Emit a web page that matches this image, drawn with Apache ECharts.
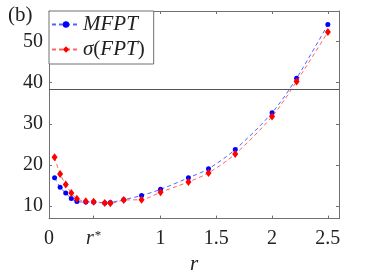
<!DOCTYPE html>
<html><head><meta charset="utf-8">
<script src="https://cdn.jsdelivr.net/npm/echarts@6/dist/echarts.min.js"></script>
<style>html,body{margin:0;padding:0;background:#fff}#c{width:374px;height:280px}</style>
</head><body><div id="c"></div>
<script>
var rVals = [0.05, 0.1, 0.15, 0.2, 0.25, 0.33, 0.4, 0.5, 0.55, 0.67, 0.83, 1.0, 1.25, 1.43, 1.67, 2.0, 2.22, 2.5];
var mfpt  = [16.9, 14.6, 13.2, 11.9, 11.15, 11.0, 11.0, 10.8, 10.9, 11.6, 12.6, 14.1, 16.9, 19.1, 23.8, 32.7, 41.1, 54.1];
var sigma = [21.9, 17.8, 15.3, 13.2, 11.8, 11.2, 11.1, 10.8, 10.7, 11.5, 11.6, 13.4, 15.9, 18.1, 22.7, 31.8, 40.3, 52.3];
var xTicks = [0, 0.4, 1, 1.5, 2, 2.5];
var xTickLabels = ['0', 'r*', '1', '1.5', '2', '2.5'];
var yTicks = [10, 20, 30, 40, 50];
var hLineValue = 38.5;
var seriesNames = ['MFPT', 'σ(FPT)'];

var FONT = 'Liberation Serif';
var AX = '#707070';
function pairs(ys){ return rVals.map(function(x,i){ return [x, ys[i]]; }); }

var chart = echarts.init(document.getElementById('c'), null, {renderer:'canvas'});
var axisCommon = {
  axisLine:{show:true, onZero:false, lineStyle:{color:AX, width:1}},
  splitLine:{show:false}
};
chart.setOption({
  animation:false,
  backgroundColor:'#fff',
  grid:{left:49, right:35, top:11, bottom:61, containLabel:false},
  title:{text:'(b)', left:3, top:0, textStyle:{fontFamily:FONT, fontSize:21, fontWeight:'normal', color:'#222'}},
  legend:{
    left:49, top:11, orient:'vertical', itemWidth:28, itemHeight:8, itemGap:4,
    padding:[3,9,4,2], backgroundColor:'#fff', borderColor:AX, borderWidth:1, borderRadius:0,
    data:seriesNames,
    formatter:function(n){
      if(n==='MFPT') return '{i|MFPT}';
      return '{i|σ}{n|(}{i|FPT}{n|)}';
    },
    textStyle:{
      fontFamily:FONT, fontSize:21, color:'#222', padding:[0,0,0,-2],
      rich:{i:{fontFamily:FONT, fontStyle:'italic', fontSize:21, color:'#222'},
            n:{fontFamily:FONT, fontSize:21, color:'#222'}}
    }
  },
  xAxis:[
    Object.assign({type:'value', min:0, max:2.6, position:'bottom',
      axisTick:{show:true, inside:true, length:3, lineStyle:{color:AX}, customValues:xTicks},
      axisLabel:{show:true, margin:10, customValues:xTicks, fontFamily:FONT, fontSize:20, color:'#222',
        formatter:function(v){ var i = xTicks.indexOf(v); var s = i>=0 ? xTickLabels[i] : String(v);
          return s==='r*' ? '{i|r}{s|*}' : s; },
        rich:{i:{fontFamily:FONT, fontStyle:'italic', fontSize:20, color:'#222'},
              s:{fontFamily:FONT, fontSize:13, color:'#222', verticalAlign:'top', padding:[0,0,8,1]}}},
      name:'r', nameLocation:'middle', nameGap:30,
      nameTextStyle:{fontFamily:FONT, fontStyle:'italic', fontSize:21, color:'#222'}
    }, axisCommon),
    Object.assign({type:'value', min:0, max:2.6, position:'top',
      axisTick:{show:true, inside:true, length:3, lineStyle:{color:AX}, customValues:xTicks},
      axisLabel:{show:false}}, axisCommon)
  ],
  yAxis:[
    Object.assign({type:'value', min:7, max:57.4, position:'left',
      axisTick:{show:true, inside:true, length:3, lineStyle:{color:AX}, customValues:yTicks},
      axisLabel:{show:true, margin:6, customValues:yTicks, fontFamily:FONT, fontSize:20, color:'#222'}
    }, axisCommon),
    Object.assign({type:'value', min:7, max:57.4, position:'right',
      axisTick:{show:true, inside:true, length:3, lineStyle:{color:AX}, customValues:yTicks},
      axisLabel:{show:false}}, axisCommon)
  ],
  series:[
    {name:seriesNames[0], type:'line', xAxisIndex:0, yAxisIndex:0, data:pairs(mfpt),
     smooth:0.3, symbol:'circle', symbolSize:5,
     itemStyle:{color:'#0000ff'},
     lineStyle:{color:'rgba(40,60,255,0.8)', width:1, type:[4,3]},
     markLine:{silent:true, symbol:'none', label:{show:false},
       lineStyle:{color:'#555', width:1, type:'solid'},
       data:[{yAxis:hLineValue}]},
     z:2},
    {name:seriesNames[1], type:'line', xAxisIndex:0, yAxisIndex:0, data:pairs(sigma),
     smooth:0.3, symbol:'diamond', symbolSize:[6,8],
     itemStyle:{color:'#ff0000'},
     lineStyle:{color:'rgba(255,60,60,0.8)', width:1, type:[4,3]},
     z:3}
  ]
});
</script></body></html>
